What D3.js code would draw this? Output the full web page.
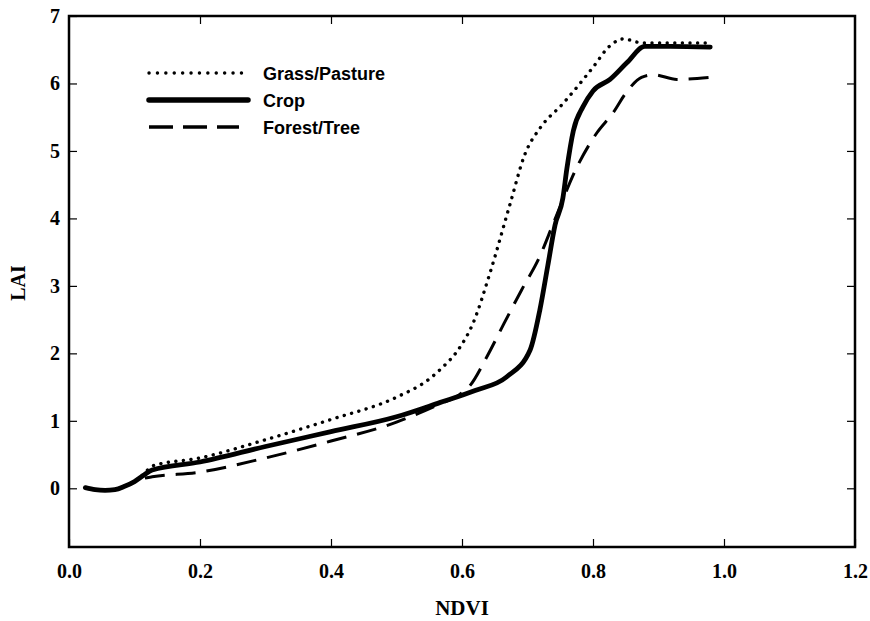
<!DOCTYPE html>
<html>
<head>
<meta charset="utf-8">
<script src="https://cdn.jsdelivr.net/npm/d3@7"></script>
<style>
  body { margin: 0; background: #fff; overflow: hidden; }
  svg { display: block; }
</style>
</head>
<body>
<svg id="chart"></svg>
<script>
// curves: [NDVI, LAI]
const grass = [[0.025, 0.01], [0.04, -0.02], [0.055, -0.03], [0.07, -0.02], [0.085, 0.03], [0.1, 0.1],
  [0.115, 0.22], [0.127, 0.33], [0.2, 0.45], [0.3, 0.72], [0.4, 1.02], [0.5, 1.35], [0.55, 1.62],
  [0.571, 1.8], [0.594, 2.05], [0.617, 2.45], [0.643, 3.2], [0.673, 4.2], [0.696, 4.95], [0.72, 5.35],
  [0.754, 5.7], [0.8, 6.24], [0.825, 6.55], [0.846, 6.66], [0.876, 6.6], [0.979, 6.6]];
const crop = [[0.025, 0.01], [0.04, -0.02], [0.055, -0.03], [0.07, -0.02], [0.085, 0.03], [0.1, 0.1],
  [0.115, 0.2], [0.127, 0.27], [0.2, 0.39], [0.3, 0.62], [0.4, 0.84], [0.5, 1.06], [0.566, 1.27],
  [0.62, 1.45], [0.668, 1.65], [0.704, 2.05], [0.719, 2.65], [0.731, 3.3], [0.742, 3.9], [0.754, 4.3],
  [0.76, 4.73], [0.77, 5.3], [0.785, 5.66], [0.8, 5.89], [0.826, 6.06], [0.852, 6.31], [0.879, 6.55],
  [0.918, 6.55], [0.979, 6.54]];
const forest = [[0.025, 0.01], [0.04, -0.02], [0.055, -0.03], [0.07, -0.02], [0.085, 0.03], [0.1, 0.1],
  [0.115, 0.15], [0.127, 0.17], [0.2, 0.24], [0.3, 0.45], [0.4, 0.7], [0.5, 0.98], [0.566, 1.25],
  [0.595, 1.38], [0.612, 1.52], [0.638, 1.95], [0.664, 2.44], [0.691, 2.94], [0.718, 3.42], [0.74, 3.94],
  [0.776, 4.77], [0.806, 5.27], [0.831, 5.57], [0.851, 5.87], [0.874, 6.09], [0.892, 6.13], [0.928, 6.06],
  [0.979, 6.09]];

const seriesNames = ["Grass/Pasture", "Crop", "Forest/Tree"];
const xTicks = [0, 0.2, 0.4, 0.6, 0.8, 1.0, 1.2];
const yTicks = [0, 1, 2, 3, 4, 5, 6, 7];

const w = 870, h = 621;
const mar = { top: 16, right: 15, bottom: 74, left: 69 };
const ih = h - mar.top - mar.bottom;

const svg = d3.select("#chart").attr("width", w).attr("height", h);
const g = svg.append("g").attr("transform", `translate(${mar.left},${mar.top})`);

const x = d3.scaleLinear().domain([0, 1.2]).range([0, 786]);
const y = d3.scaleLinear().domain([-0.87, 7]).range([ih, 0]);

// frame
g.append("rect")
  .attr("x", 0).attr("y", 0)
  .attr("width", x(1.2)).attr("height", ih)
  .attr("fill", "none").attr("stroke", "#000").attr("stroke-width", 2.5);

const serif = "'Liberation Serif', 'Times New Roman', serif";

// bottom axis, ticks pointing in
g.append("g")
  .attr("transform", `translate(0,${ih})`)
  .call(d3.axisBottom(x).tickValues(xTicks).tickSizeInner(-8).tickSizeOuter(0).tickPadding(17).tickFormat(d3.format(".1f")))
  .call(a => a.select(".domain").remove())
  .call(a => a.selectAll("line").attr("stroke-width", 1.2))
  .call(a => a.selectAll("text").attr("font-family", serif).attr("font-weight", "bold").attr("font-size", 20).attr("fill", "#000"));

// top ticks
g.append("g")
  .call(d3.axisTop(x).tickValues(xTicks.slice(1, -1)).tickSizeInner(-8).tickSizeOuter(0).tickFormat(""))
  .call(a => a.select(".domain").remove())
  .call(a => a.selectAll("line").attr("stroke-width", 1.2));

// left axis
g.append("g")
  .call(d3.axisLeft(y).tickValues(yTicks).tickSizeInner(-8).tickSizeOuter(0).tickPadding(9))
  .call(a => a.select(".domain").remove())
  .call(a => a.selectAll("line").attr("stroke-width", 1.2))
  .call(a => a.selectAll("text").attr("font-family", serif).attr("font-weight", "bold").attr("font-size", 20).attr("fill", "#000"));

// right ticks
g.append("g")
  .attr("transform", `translate(${x(1.2)},0)`)
  .call(d3.axisRight(y).tickValues(yTicks.slice(0, -1)).tickSizeInner(-8).tickSizeOuter(0).tickFormat(""))
  .call(a => a.select(".domain").remove())
  .call(a => a.selectAll("line").attr("stroke-width", 1.2));

// axis titles
svg.append("text")
  .attr("x", 462).attr("y", 615)
  .attr("text-anchor", "middle")
  .attr("font-family", serif).attr("font-weight", "bold").attr("font-size", 21)
  .text("NDVI");
svg.append("text")
  .attr("transform", "translate(25,283) rotate(-90)")
  .attr("text-anchor", "middle")
  .attr("font-family", serif).attr("font-weight", "bold").attr("font-size", 20)
  .text("LAI");

const line = d3.line()
  .x(d => x(d[0]))
  .y(d => y(d[1]))
  .curve(d3.curveMonotoneX);

const styles = [
  { data: grass, width: 3.4, dash: "0.1,7.5", cap: "round" },
  { data: crop, width: 4.8, dash: null, cap: "round" },
  { data: forest, width: 3, dash: "20,11", cap: "butt" }
];

styles.forEach(s => {
  g.append("path")
    .datum(s.data)
    .attr("d", line)
    .attr("fill", "none")
    .attr("stroke", "#000")
    .attr("stroke-width", s.width)
    .attr("stroke-linecap", s.cap)
    .attr("stroke-linejoin", "round")
    .attr("stroke-dasharray", s.dash);
});

// legend
const leg = svg.append("g").attr("transform", "translate(149,73)");
const legStyles = [
  { width: 3.4, dash: "0.1,8.3", cap: "round", len: 99 },
  { width: 5.5, dash: null, cap: "round", len: 99 },
  { width: 3.5, dash: "24,10", cap: "butt", len: 90 }
];
seriesNames.forEach((name, i) => {
  const row = leg.append("g").attr("transform", `translate(0,${i * 27})`);
  row.append("line")
    .attr("x1", 0).attr("x2", legStyles[i].len)
    .attr("y1", 0).attr("y2", 0)
    .attr("stroke", "#000")
    .attr("stroke-width", legStyles[i].width)
    .attr("stroke-linecap", legStyles[i].cap)
    .attr("stroke-dasharray", legStyles[i].dash);
  row.append("text")
    .attr("x", 114).attr("y", 6.5)
    .attr("font-family", "'Liberation Sans', Arial, sans-serif")
    .attr("font-weight", "bold").attr("font-size", 18)
    .text(name);
});
</script>
</body>
</html>
